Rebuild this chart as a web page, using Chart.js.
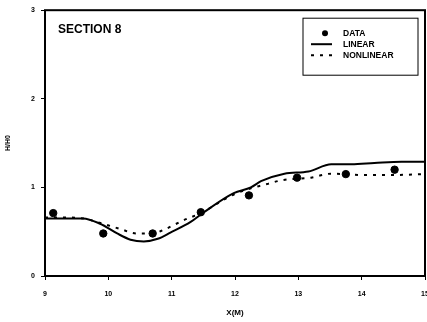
<!DOCTYPE html>
<html>
<head>
<meta charset="utf-8">
<script src="https://cdn.jsdelivr.net/npm/chart.js@4"></script>
<style>
  html, body { margin: 0; padding: 0; background: #fff; }
  #wrap { width: 427px; height: 322px; overflow: hidden; }
</style>
</head>
<body>
<div id="wrap"><canvas id="sectionChart" width="430" height="322"></canvas></div>
<script>
const dataX = [9.13, 9.92, 10.70, 11.46, 12.22, 12.98, 13.75, 14.52];
const dataY = [0.71, 0.48, 0.48, 0.72, 0.91, 1.11, 1.15, 1.20];

const linearX = [9.0, 9.3, 9.6, 9.87, 10.14, 10.35, 10.56, 10.78, 10.98, 11.3, 11.51, 11.98, 12.25, 12.41, 12.78, 13.16, 13.52, 13.84, 14.2, 14.63, 15.0];
const linearY = [0.65, 0.65, 0.65, 0.59, 0.48, 0.41, 0.39, 0.42, 0.49, 0.61, 0.72, 0.935, 1.0, 1.07, 1.155, 1.18, 1.26, 1.26, 1.275, 1.29, 1.29];

const nonlinearX = [9.0, 9.3, 9.6, 9.82, 10.19, 10.45, 10.7, 10.87, 11.19, 11.46, 11.98, 12.3, 12.52, 12.73, 13.2, 13.52, 14.0, 14.5, 15.0];
const nonlinearY = [0.66, 0.66, 0.65, 0.61, 0.53, 0.48, 0.48, 0.52, 0.63, 0.71, 0.92, 1.0, 1.04, 1.08, 1.11, 1.155, 1.14, 1.14, 1.15];

const xTicks = [9, 10, 11, 12, 13, 14, 15];
const yTicks = [0, 1, 2, 3];

const sectionLabel = "SECTION 8";
const xTitle = "X(M)";
const yTitle = "H/H0";

function toPoints(xs, ys) {
    return xs.map((x, i) => ({ x: x, y: ys[i] }));
}

const FONT = "'Liberation Sans', Arial, sans-serif";

// frame round the plot + section label
const framePlugin = {
    id: 'frame',
    afterDraw(chart) {
        const { ctx, chartArea } = chart;
        ctx.save();
        ctx.strokeStyle = '#000';
        ctx.lineWidth = 2;
        ctx.strokeRect(chartArea.left, chartArea.top, chartArea.right - chartArea.left, chartArea.bottom - chartArea.top);
        ctx.fillStyle = '#000';
        ctx.font = "bold 12px " + FONT;
        ctx.textBaseline = 'middle';
        ctx.fillText(sectionLabel, chartArea.left + 13, chartArea.top + 19);
        ctx.restore();
    }
};

// legend drawn inside the plot, top right
const boxLegend = {
    id: 'boxLegend',
    afterDraw(chart) {
        const { ctx, chartArea } = chart;
        const w = 115, h = 57;
        const x0 = chartArea.right - 7 - w;
        const y0 = chartArea.top + 8;
        ctx.save();
        ctx.fillStyle = '#fff';
        ctx.fillRect(x0, y0, w, h);
        ctx.strokeStyle = '#000';
        ctx.lineWidth = 1;
        ctx.strokeRect(x0, y0, w, h);
        ctx.font = "bold 8.5px " + FONT;
        ctx.textBaseline = 'middle';
        chart.data.datasets.forEach((ds, i) => {
            const y = y0 + 15 + i * 11;
            ctx.fillStyle = '#000';
            ctx.strokeStyle = '#000';
            if (ds.showLine) {
                ctx.lineWidth = ds.borderWidth;
                ctx.setLineDash(ds.borderDash || []);
                ctx.beginPath();
                ctx.moveTo(x0 + 8, y);
                ctx.lineTo(x0 + 29, y);
                ctx.stroke();
                ctx.setLineDash([]);
            } else {
                ctx.beginPath();
                ctx.arc(x0 + 22, y, 3, 0, Math.PI * 2);
                ctx.fill();
            }
            ctx.fillText(ds.label, x0 + 40, y);
        });
        ctx.restore();
    }
};

const ctx = document.getElementById('sectionChart').getContext('2d');
new Chart(ctx, {
    type: 'scatter',
    data: {
        datasets: [{
            label: 'DATA',
            data: toPoints(dataX, dataY),
            pointRadius: 3.7,
            pointBackgroundColor: '#000',
            pointBorderColor: '#000',
            showLine: false
        }, {
            label: 'LINEAR',
            data: toPoints(linearX, linearY),
            showLine: true,
            borderColor: '#000',
            borderWidth: 2,
            pointRadius: 0,
            cubicInterpolationMode: 'monotone'
        }, {
            label: 'NONLINEAR',
            data: toPoints(nonlinearX, nonlinearY),
            showLine: true,
            borderColor: '#000',
            borderWidth: 2,
            borderDash: [3, 6],
            pointRadius: 0,
            cubicInterpolationMode: 'monotone'
        }]
    },
    options: {
        responsive: false,
        animation: false,
        layout: { padding: { top: 10, right: 3, left: 0, bottom: 0 } },
        plugins: {
            legend: { display: false },
            tooltip: { enabled: false }
        },
        scales: {
            x: {
                type: 'linear',
                min: 9,
                max: 15,
                afterBuildTicks: (scale) => { scale.ticks = xTicks.map(v => ({ value: v })); },
                afterFit: (scale) => { scale.height = 46; scale.paddingRight = 0; scale.paddingLeft = 0; },
                grid: { display: true, drawOnChartArea: false, drawTicks: true, tickLength: 4, color: '#000', lineWidth: 1 },
                border: { display: false },
                ticks: { color: '#000', font: { family: FONT, size: 7, weight: 'bold' }, padding: 10, maxRotation: 0 },
                title: { display: true, text: xTitle, color: '#000', font: { family: FONT, size: 8, weight: 'bold' }, padding: { top: 2 } }
            },
            y: {
                type: 'linear',
                min: 0,
                max: 3,
                afterBuildTicks: (scale) => { scale.ticks = yTicks.map(v => ({ value: v })); },
                afterFit: (scale) => { scale.width = 45; },
                grid: { display: true, drawOnChartArea: false, drawTicks: true, tickLength: 4, color: '#000', lineWidth: 1 },
                border: { display: false },
                ticks: { color: '#000', font: { family: FONT, size: 7, weight: 'bold' }, padding: 6 },
                title: { display: true, text: yTitle, color: '#000', font: { family: FONT, size: 7, weight: 'bold' }, padding: { bottom: 0 } }
            }
        }
    },
    plugins: [framePlugin, boxLegend]
});
</script>
</body>
</html>
